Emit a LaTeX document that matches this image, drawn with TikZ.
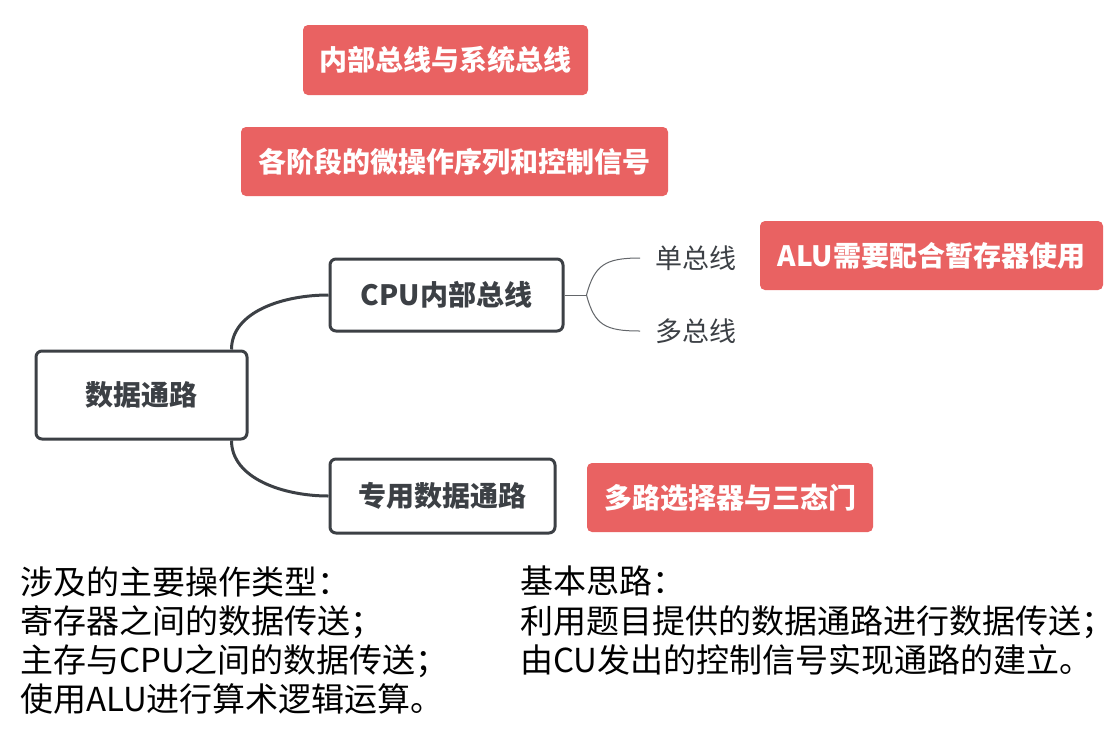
\documentclass[tikz,border=0pt]{standalone}
\usepackage{fontspec}
\setmainfont{Noto Sans CJK SC}
\usetikzlibrary{positioning}
\definecolor{notered}{HTML}{E96262}
\definecolor{inkgray}{HTML}{3C4045}

\tikzset{
  redbox/.style={rectangle, rounded corners=5pt, fill=notered, text=white,
    font=\fontsize{28}{32}\selectfont\bfseries, inner sep=0pt},
  topicbox/.style={rectangle, rounded corners=6pt, draw=inkgray, line width=3pt,
    fill=white, text=inkgray, font=\fontsize{28}{32}\selectfont\bfseries, inner sep=0pt},
  subtext/.style={text=inkgray, font=\fontsize{27}{30}\selectfont, inner xsep=15pt, inner ysep=0pt},
  branch/.style={draw=inkgray, line width=3pt},
  twig/.style={draw=inkgray!80, line width=1pt},
  notetext/.style={align=left, text=black, inner sep=0pt,
    font=\fontsize{33}{39.3}\selectfont}
}

\begin{document}
\begin{tikzpicture}[x=1pt, y=-1pt]
  \useasboundingbox[fill=white] (0,0) rectangle (1120,740);

  % red notes at the top
  \node[redbox, minimum width=285pt, minimum height=70pt] (sysbus) at (445.5,60) {内部总线与系统总线};
  \node[redbox, minimum width=427pt, minimum height=69pt] (microop) at (454.5,161.5) {各阶段的微操作序列和控制信号};

  % mind map
  \node[topicbox, minimum width=211pt, minimum height=88pt] (root) at (141.5,395) {数据通路};
  \node[topicbox, minimum width=233pt, minimum height=72pt] (cpubus) at (446.5,295) {CPU内部总线};
  \node[topicbox, minimum width=225pt, minimum height=74pt] (special) at (442.5,496) {专用数据通路};

  \draw[branch] ([xshift=-17pt]root.north east) .. controls +(0,-38) and +(-45,0) .. (cpubus.west);
  \draw[branch] ([xshift=-17pt]root.south east) .. controls +(0,38) and +(-45,0) .. (special.west);

  % CPU bus sub topics
  \node[subtext, anchor=west] (single) at (640,258) {单总线};
  \node[subtext, anchor=west] (multi) at (640,331) {多总线};
  \draw[twig] (cpubus.east) -- ++(22,0) coordinate (fork);
  \draw[twig] (fork) .. controls +(8,-30) and +(-35,0) .. (single.west);
  \draw[twig] (fork) .. controls +(8,30) and +(-35,0) .. (multi.west);

  % red notes beside the topics
  \node[redbox, minimum width=343pt, minimum height=69pt] (aluneed) at (931.5,255.5) {ALU需要配合暂存器使用};
  \node[redbox, minimum width=286pt, minimum height=69pt] (mux) at (730,497.5) {多路选择器与三态门};

  % explanation text
  \node[notetext, anchor=north west] (optypes) at (20,566) {涉及的主要操作类型：\\寄存器之间的数据传送；\\主存与CPU之间的数据传送；\\使用ALU进行算术逻辑运算。};
  \node[notetext, anchor=north west] (idea) at (520,566) {基本思路：\\利用题目提供的数据通路进行数据传送；\\由CU发出的控制信号实现通路的建立。};
\end{tikzpicture}
\end{document}
